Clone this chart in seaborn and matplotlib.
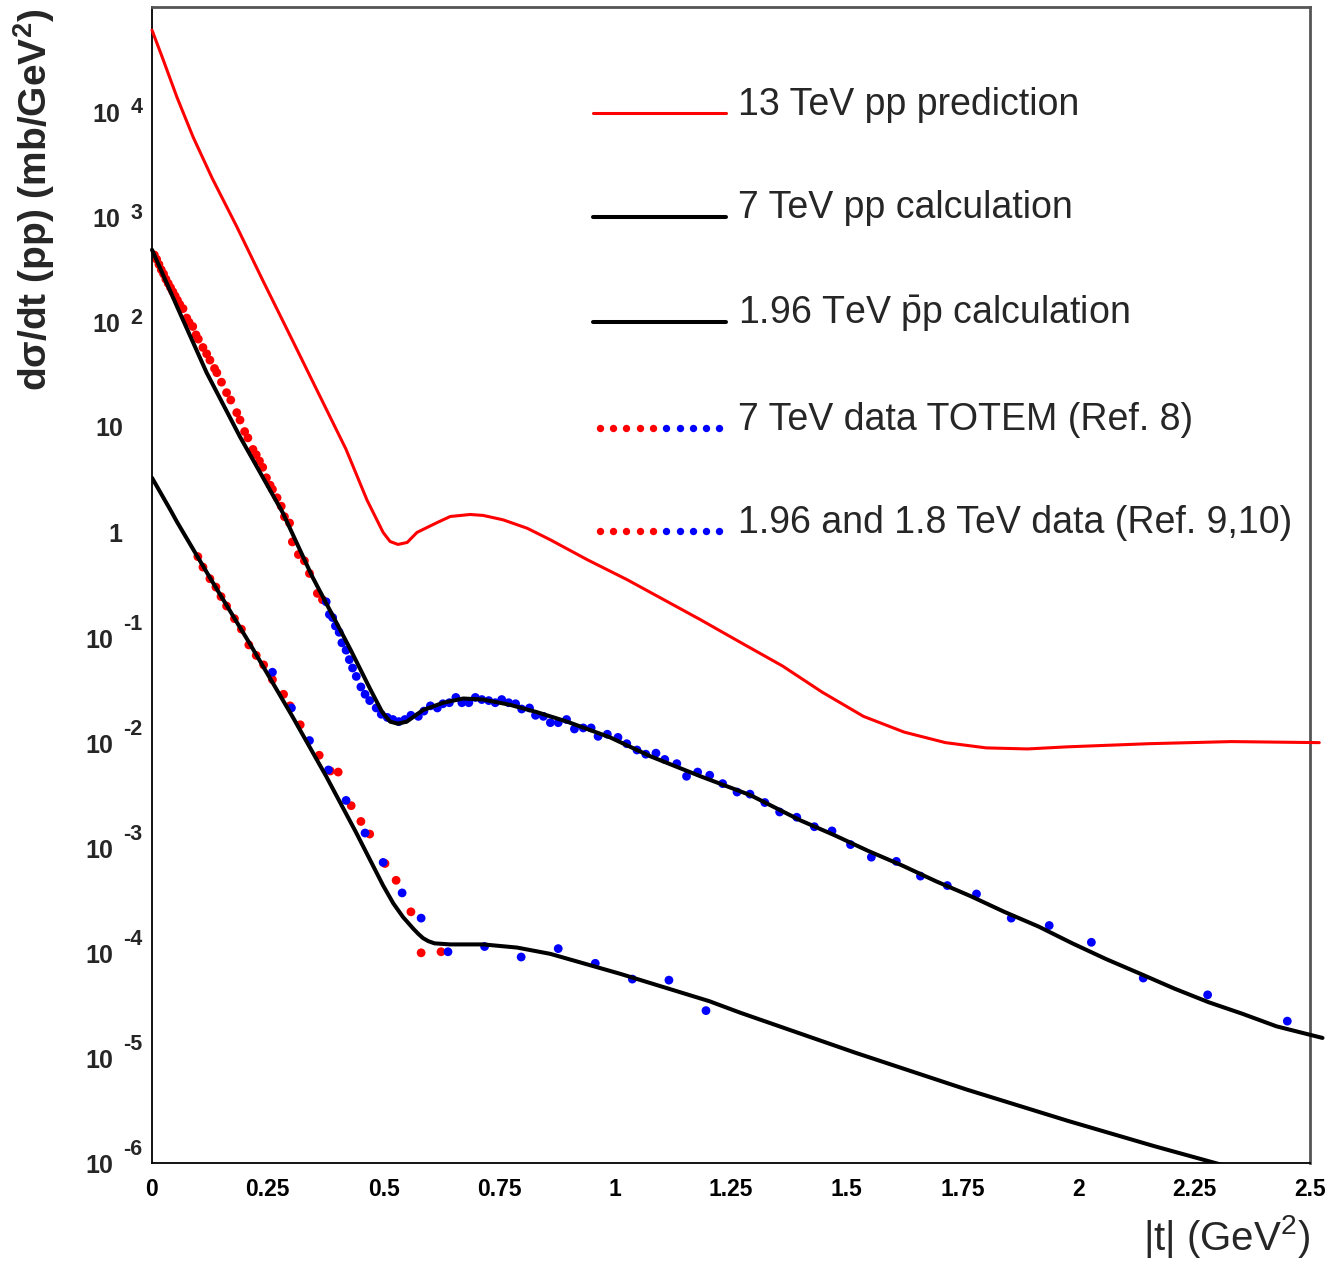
import numpy as np
import pandas as pd
import matplotlib
matplotlib.use("Agg")
import matplotlib.pyplot as plt
import seaborn as sns
from matplotlib.lines import Line2D
from matplotlib.legend_handler import HandlerLine2D, HandlerTuple
from matplotlib.ticker import FixedLocator, LogLocator, NullFormatter

# |t| in GeV^2, values stored as log10(dsigma/dt)
t_13 = [0.0, 0.024, 0.054, 0.089, 0.13, 0.183, 0.239, 0.303, 0.419, 0.464, 0.499, 0.514,
        0.531, 0.551, 0.572, 0.616, 0.644, 0.687, 0.715, 0.758, 0.810, 0.860, 0.94, 1.026,
        1.184, 1.272, 1.361, 1.447, 1.536, 1.624, 1.713, 1.801, 1.890, 1.976, 2.153, 2.33, 2.52]
log_13 = [4.78, 4.50, 4.14, 3.76, 3.37, 2.91, 2.40, 1.83, 0.79, 0.31, 0.0, -0.086,
          -0.114, -0.095, 0.0, 0.095, 0.152, 0.171, 0.162, 0.12, 0.04, -0.07, -0.26, -0.45,
          -0.83, -1.05, -1.27, -1.52, -1.75, -1.90, -2.00, -2.05, -2.06, -2.04, -2.01, -1.99, -2.00]

t_7 = [0.0, 0.06, 0.118, 0.19, 0.282, 0.346, 0.428, 0.471, 0.497, 0.514, 0.531, 0.55,
       0.585, 0.629, 0.672, 0.715, 0.773, 0.831, 0.896, 0.989, 1.076, 1.184, 1.292, 1.40,
       1.473, 1.546, 1.620, 1.693, 1.767, 1.840, 1.914, 1.987, 2.06, 2.134, 2.207, 2.281,
       2.354, 2.428, 2.527]
log_7 = [2.69, 2.09, 1.52, 0.91, 0.19, -0.42, -1.11, -1.49, -1.71, -1.80, -1.82, -1.80,
         -1.69, -1.62, -1.58, -1.59, -1.64, -1.71, -1.80, -1.95, -2.13, -2.32, -2.50, -2.74,
         -2.88, -3.03, -3.17, -3.32, -3.46, -3.61, -3.75, -3.91, -4.06, -4.20, -4.34, -4.47,
         -4.58, -4.70, -4.81]

t_196 = [0.0, 0.039, 0.054, 0.125, 0.21, 0.303, 0.376, 0.44, 0.499, 0.521, 0.542, 0.564,
         0.575, 0.585, 0.597, 0.61, 0.644, 0.715, 0.788, 0.86, 1.011, 1.203, 1.27, 1.518,
         1.758, 1.978, 2.164, 2.32]
log_196 = [0.52, 0.22, 0.10, -0.43, -1.05, -1.75, -2.32, -2.85, -3.36, -3.53, -3.66, -3.77,
           -3.82, -3.86, -3.89, -3.91, -3.92, -3.92, -3.95, -4.01, -4.20, -4.46, -4.57, -4.95,
           -5.30, -5.60, -5.84, -6.03]

# 7 TeV TOTEM data: low |t| (red) and high |t| (blue)
t_totem_red = [0.005, 0.01, 0.015, 0.02, 0.025, 0.03, 0.035, 0.04, 0.045, 0.05, 0.055, 0.06,
               0.067, 0.075, 0.08, 0.088, 0.095, 0.10, 0.11, 0.118, 0.125, 0.135, 0.14, 0.15,
               0.161, 0.17, 0.183, 0.19, 0.2, 0.207, 0.218, 0.225, 0.232, 0.239, 0.247, 0.255,
               0.26, 0.27, 0.279, 0.286, 0.297, 0.303, 0.316, 0.329, 0.34, 0.357, 0.368]
log_totem_red = [2.64, 2.60, 2.55, 2.50, 2.46, 2.41, 2.37, 2.33, 2.29, 2.25, 2.21, 2.17,
                 2.13, 2.04, 2.00, 1.96, 1.88, 1.84, 1.76, 1.70, 1.64, 1.56, 1.52, 1.43,
                 1.33, 1.26, 1.14, 1.07, 0.96, 0.90, 0.79, 0.74, 0.68, 0.62, 0.52, 0.45,
                 0.41, 0.33, 0.25, 0.15, 0.09, -0.09, -0.21, -0.27, -0.39, -0.58, -0.64]

t_totem_blue = [0.376, 0.383, 0.39, 0.396, 0.404, 0.41, 0.419, 0.426, 0.433, 0.441, 0.451,
                0.46, 0.47, 0.484, 0.495, 0.508, 0.52, 0.533, 0.546, 0.559, 0.575, 0.587,
                0.601, 0.616, 0.628, 0.642, 0.656, 0.669, 0.684, 0.698, 0.712, 0.727, 0.741,
                0.755, 0.77, 0.785, 0.798, 0.815, 0.828, 0.845, 0.86, 0.877, 0.895, 0.912,
                0.931, 0.948, 0.963, 0.983, 1.006, 1.025, 1.047, 1.066, 1.088, 1.107, 1.133,
                1.154, 1.178, 1.204, 1.232, 1.263, 1.291, 1.323, 1.355, 1.392, 1.43, 1.468,
                1.508, 1.553, 1.607, 1.659, 1.717, 1.78, 1.855, 1.937, 2.028, 2.14, 2.279, 2.451]
log_totem_blue = [-0.66, -0.78, -0.81, -0.89, -0.95, -1.05, -1.12, -1.21, -1.29, -1.37, -1.47,
                  -1.54, -1.60, -1.67, -1.73, -1.76, -1.78, -1.80, -1.78, -1.74, -1.75, -1.70,
                  -1.65, -1.67, -1.63, -1.62, -1.57, -1.62, -1.62, -1.57, -1.59, -1.60, -1.62,
                  -1.59, -1.62, -1.63, -1.68, -1.67, -1.74, -1.75, -1.81, -1.81, -1.78, -1.87,
                  -1.86, -1.86, -1.94, -1.92, -1.95, -2.01, -2.07, -2.11, -2.10, -2.16, -2.20,
                  -2.32, -2.28, -2.31, -2.39, -2.47, -2.49, -2.57, -2.66, -2.71, -2.80, -2.84,
                  -2.97, -3.09, -3.13, -3.27, -3.36, -3.44, -3.67, -3.74, -3.90, -4.24, -4.40, -4.65]

# 1.96 and 1.8 TeV data
t_tev_red = [0.099, 0.11, 0.125, 0.138, 0.149, 0.161, 0.178, 0.193, 0.209, 0.225, 0.241, 0.26,
             0.284, 0.298, 0.32, 0.361, 0.385, 0.402, 0.43, 0.451, 0.47, 0.503, 0.527, 0.559,
             0.581, 0.624]
log_tev_red = [-0.23, -0.33, -0.44, -0.52, -0.61, -0.70, -0.82, -0.92, -1.07, -1.17, -1.26, -1.40,
               -1.54, -1.65, -1.83, -2.12, -2.27, -2.28, -2.60, -2.75, -2.87, -3.15, -3.31, -3.61,
               -4.00, -3.99]
t_tev_blue = [0.26, 0.301, 0.34, 0.381, 0.419, 0.46, 0.499, 0.54, 0.581, 0.639, 0.718, 0.797,
              0.877, 0.957, 1.037, 1.116, 1.196]
log_tev_blue = [-1.33, -1.67, -1.98, -2.26, -2.55, -2.86, -3.14, -3.43, -3.67, -3.99, -3.94, -4.04,
                -3.96, -4.10, -4.25, -4.26, -4.55]

x_ticks = [0, 0.25, 0.5, 0.75, 1, 1.25, 1.5, 1.75, 2, 2.25, 2.5]
y_exponents = list(range(-6, 5))

legend_labels = ["13 TeV pp prediction", "7 TeV pp calculation",
                 r"1.96 TeV $\bar{\mathrm{p}}$p calculation",
                 "7 TeV data TOTEM (Ref. 8)", "1.96 and 1.8 TeV data (Ref. 9,10)"]


class BaselineHandler(HandlerLine2D):
    """Line handler that sits the handle near the text baseline."""
    def create_artists(self, legend, orig_handle, xdescent, ydescent, width, height, fontsize, trans):
        artists = super().create_artists(legend, orig_handle, xdescent, ydescent, width,
                                         height, fontsize, trans)
        for a in artists:
            a.set_ydata(np.asarray(a.get_ydata(), dtype=float) - 0.3 * fontsize)
        return artists


sns.set_style("white")
plt.rcParams["font.family"] = ["Liberation Sans", "DejaVu Sans"]
plt.rcParams["mathtext.fontset"] = "custom"
plt.rcParams["mathtext.rm"] = "Liberation Sans"
plt.rcParams["mathtext.it"] = "Liberation Sans:italic"
plt.rcParams["mathtext.bf"] = "Liberation Sans:bold"

fig = plt.figure(figsize=(13.33, 12.64), dpi=100)
ax = fig.add_axes([152 / 1333, 1 - 1163 / 1264, (1310 - 152) / 1333, (1163 - 7) / 1264])
ax.set_yscale("log")

pts = [(t_totem_red, log_totem_red, "#ff0000"), (t_totem_blue, log_totem_blue, "#0000ff"),
       (t_tev_red, log_tev_red, "#ff0000"), (t_tev_blue, log_tev_blue, "#0000ff")]
for tt, ll, col in pts:
    df = pd.DataFrame({"t": tt, "y": np.power(10.0, ll)})
    sns.scatterplot(data=df, x="t", y="y", color=col, s=40, edgecolor="none",
                    ax=ax, zorder=2, legend=False)

curves = [(t_13, log_13, "#ff0000", 2.2, False), (t_7, log_7, "black", 2.9, False),
          (t_196, log_196, "black", 2.9, True)]
for tt, ll, col, lw, clip in curves:
    df = pd.DataFrame({"t": tt, "y": np.power(10.0, ll)})
    sns.lineplot(data=df, x="t", y="y", color=col, linewidth=lw, sort=False,
                 estimator=None, ax=ax, zorder=3, clip_on=clip)

ax.set_xlim(0, 2.5)
ax.set_ylim(1e-6, 1e5)

# spines and ticks
for side in ["left", "bottom"]:
    ax.spines[side].set_color("black")
    ax.spines[side].set_linewidth(1.3)
for side in ["top", "right"]:
    ax.spines[side].set_color("#555555")
    ax.spines[side].set_linewidth(2.0)

ax.xaxis.set_major_locator(FixedLocator(x_ticks))
ax.set_xticklabels([f"{v:g}" for v in x_ticks], fontsize=16.5, fontweight="bold")
ax.tick_params(axis="x", which="major", direction="in", length=7, width=1.0,
               top=False, pad=11, colors="black")
ax.yaxis.set_major_locator(FixedLocator([10.0 ** e for e in range(-6, 6)]))
ax.yaxis.set_minor_locator(LogLocator(base=10, subs=range(2, 10), numticks=30))
ax.yaxis.set_major_formatter(NullFormatter())
ax.yaxis.set_minor_formatter(NullFormatter())
ax.tick_params(axis="y", which="major", direction="in", length=8, width=1.0, right=False)
ax.tick_params(axis="y", which="minor", direction="in", length=4, width=0.9, right=False)
ax.grid(False)

# y tick labels written as "10" with a raised exponent, like the original
ytrans = ax.get_yaxis_transform()
for e in y_exponents:
    yv = 10.0 ** e
    if e in (0, 1):
        ax.annotate("1" if e == 0 else "10", xy=(0, yv), xycoords=ytrans, xytext=(-21, -1.5),
                    textcoords="offset points", ha="right", va="center",
                    fontsize=18, fontweight="bold", annotation_clip=False)
    else:
        sup = ax.annotate(str(e), xy=(0, yv), xycoords=ytrans,
                          xytext=(-7, 3 if e > 0 else 9.5), textcoords="offset points",
                          ha="right", va="center", fontsize=15.5, fontweight="bold",
                          annotation_clip=False)
        ax.annotate("10", xy=(0, yv), xycoords=(sup, ytrans), xytext=(-7, -2.2),
                    textcoords="offset points", ha="right", va="center",
                    fontsize=18, fontweight="bold", annotation_clip=False)

ax.set_ylabel(r"d$\mathbf{\sigma}$/dt (pp) (mb/GeV$^{\mathbf{2}}$)", fontsize=28, fontweight="bold")
ax.yaxis.set_label_coords(-0.082, 0.833)
ax.set_xlabel(r"|t| (GeV$^{2}$)", fontsize=29)
ax.xaxis.label.set_horizontalalignment("right")
ax.xaxis.set_label_coords(1.0, -0.043)

# legend
h_red = Line2D([], [], color="#ff0000", lw=2.2)
h_b1 = Line2D([], [], color="black", lw=2.9)
h_b2 = Line2D([], [], color="black", lw=2.9)


def dots(col):
    return Line2D([], [], color=col, marker="o", ls="none", ms=5.3, mec="none")


handles = [h_red, h_b1, h_b2, (dots("#ff0000"), dots("#0000ff")),
           (dots("#ff0000"), dots("#0000ff"))]
hmap = {tuple: HandlerTuple(ndivide=None, pad=0), Line2D: BaselineHandler(marker_pad=0.18)}
for h in (h_red, h_b1, h_b2):
    hmap[h] = BaselineHandler(numpoints=1)
ax.legend(handles, legend_labels, loc="upper left", bbox_to_anchor=(593 / 1333, 1 - 87 / 1264),
          bbox_transform=fig.transFigure, frameon=False, fontsize=27, handlelength=3.55,
          handletextpad=0.32, labelspacing=1.8, borderpad=0, borderaxespad=0, numpoints=5,
          handler_map=hmap)

fig.savefig("out.png", dpi=100)
